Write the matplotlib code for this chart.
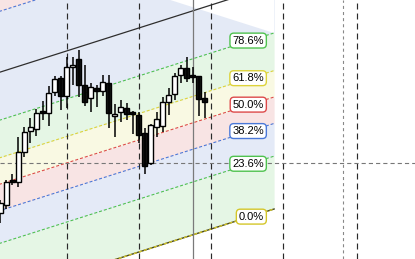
import matplotlib
matplotlib.use("Agg")
import matplotlib.pyplot as plt
import numpy as np
from matplotlib.patches import Polygon

plt.rcParams['lines.scale_dashes'] = False
plt.rcParams['font.family'] = ['Liberation Sans', 'DejaVu Sans']

# ---- candle data (price units) ----
idx = list(range(35))
opens  = [46, 54, 79, 77, 107, 128, 130, 148, 146, 167, 181, 163, 192, 200, 174, 161, 171, 168, 176,
          143, 147, 151, 147, 144, 126, 96, 132, 133, 157, 165, 184, 191, 184, 183, 161]
highs  = [59, 79, 85, 122, 132, 141, 150, 158, 173, 183, 183, 202, 202, 209, 194, 176, 174, 184, 184,
          155, 159, 156, 148, 147, 131, 135, 147, 162, 171, 186, 194, 202, 192, 183, 167]
lows   = [36, 50, 74, 72, 102, 116, 123, 139, 133, 163, 149, 151, 174, 162, 153, 147, 152, 163, 131,
          122, 137, 139, 125, 116, 85, 94, 122, 127, 144, 159, 176, 177, 176, 143, 141]
closes = [56, 77, 77, 107, 127, 132, 146, 146, 166, 180, 163, 192, 194, 174, 157, 172, 168, 177, 146,
          145, 152, 145, 145, 124, 93, 134, 140, 157, 164, 183, 191, 181, 182, 160, 157]

# ---- fib channel ----
chan_x = [-2.0, 45.6]          # start / end (bar index)
chan_base = [-40.8, 50.0]      # 0% level price at start / end
chan_height = 224.0            # price distance 0% -> 100%
levels = [0.0, 0.236, 0.382, 0.5, 0.618, 0.786, 1.0, 1.272, 1.618]
level_labels = ['0.0%', '23.6%', '38.2%', '50.0%', '61.8%', '78.6%', None, None, None]
line_colors = ['#d4c62a', '#4fc24f', '#4a78d8', '#dd4a4a', '#ddd23a', '#4fc24f', '#2e2e2e', '#4a78d8', '#dd4a4a']
fill_colors = [None, '#e5f6e5', '#e4eaf7', '#f8e4e4', '#f9f9e3', '#e5f6e5', '#e4eaf6', '#e4eaf6', '#f8e4e4']

# ---- markers ----
session_lines = [11, 23, 35, 47, 59.4]
cursor_line = 32
cross_x = 57
cross_y = 96

fig = plt.figure(figsize=(4.15, 2.59), dpi=100)
ax = fig.add_axes([0, 0, 1, 1])
ax.set_xlim(-0.0833, 69.083)
ax.set_ylim(0, 259)
ax.axis('off')
fig.patch.set_facecolor('white')

slope = (chan_base[1] - chan_base[0]) / (chan_x[1] - chan_x[0])
xs = np.array(chan_x)
def lev(l, x):
    return chan_base[0] + slope * (np.asarray(x) - chan_x[0]) + l * chan_height

# bands
for k in range(1, len(levels)):
    ax.fill_between(xs, lev(levels[k - 1], xs), lev(levels[k], xs), color=fill_colors[k], lw=0, zorder=0)

# white cut at the top right (mirror slope from 78.6% end point)
pe = float(lev(0.786, chan_x[1]))
top = 400
cut = Polygon([(chan_x[1], pe), (chan_x[1], top), (chan_x[1] - (top - pe) / slope, top)],
              closed=True, facecolor='white', edgecolor='none', zorder=0.5)
ax.add_patch(cut)

# level lines
for k, l in enumerate(levels):
    ys = lev(l, xs)
    if l == 0.0:
        ax.plot(xs, ys, color='#4a4a20', lw=1.0, zorder=1)
        ax.plot(xs, ys, color=line_colors[k], lw=1.0, ls=(0, (2.2, 1.6)), zorder=1.1)
    elif l == 1.0:
        ax.plot(xs, ys, color=line_colors[k], lw=0.9, zorder=1)
    else:
        ax.plot(xs, ys, color=line_colors[k], lw=0.8, ls=(0, (2.2, 1.4)), zorder=1)

# vertical session lines
for sx in session_lines:
    ax.axvline(sx, color='#2a2a2a', lw=0.85, ls=(0, (4.3, 2.9)), zorder=1.5)
ax.axvline(cursor_line, color='#7a7a7a', lw=0.9, zorder=1.5)
ax.axvline(cross_x, color='#888888', lw=0.8, ls=(0, (2.2, 2.2)), zorder=1.5)
ax.axhline(cross_y, color='#777777', lw=0.8, ls=(0, (3, 2.2)), zorder=1.5)

# candles
for i, o, h, l, c in zip(idx, opens, highs, lows, closes):
    ax.vlines(i, l, h, color='black', lw=1.1, zorder=2)
    up = c >= o
    bottom = min(o, c)
    height = max(abs(c - o), 1.5)
    ax.bar(i, height, bottom=bottom, width=0.74,
           color='white' if up else (0, 0, 0, 0.92),
           edgecolor='black', lw=1.0, zorder=3)

# labels
lab_x = chan_x[1] - 1.7
lab_yx = chan_x[1] - 4.0
for k, l in enumerate(levels):
    if level_labels[k] is None:
        continue
    ax.text(lab_x, float(lev(l, lab_yx)), level_labels[k], ha='right', va='center',
            fontsize=8, color='black', zorder=4,
            bbox=dict(boxstyle='round,pad=0.22,rounding_size=0.35', facecolor='white',
                      edgecolor=line_colors[k], lw=1.0))

fig.savefig('out.png', dpi=100)
